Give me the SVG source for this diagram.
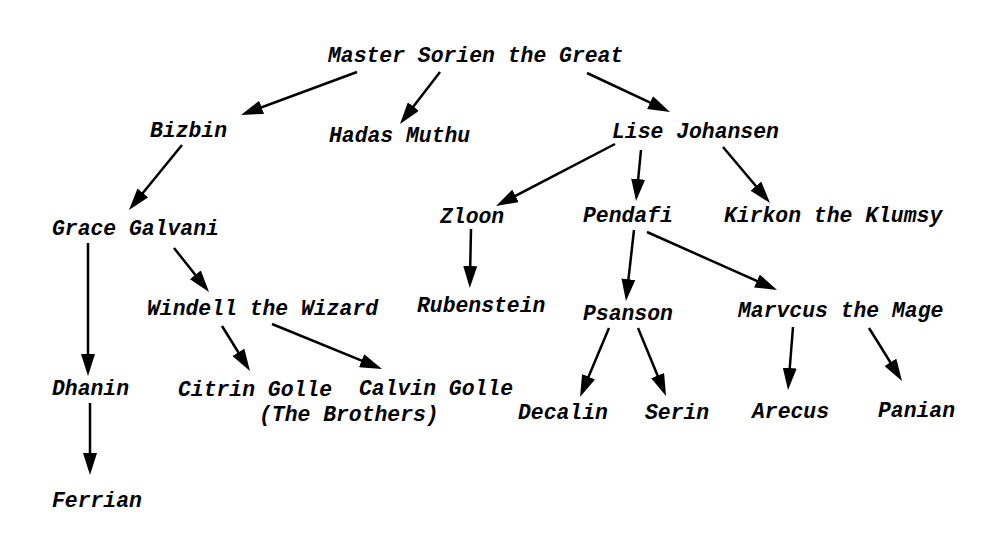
<svg xmlns="http://www.w3.org/2000/svg" width="1000" height="548" viewBox="0 0 1000 548">
<style>
text{font-family:"Liberation Mono","Courier New",monospace;font-size:21.4px;font-weight:bold;font-style:italic;fill:#000}
.c line{stroke:#000;stroke-width:2.5;marker-end:url(#ah)}
</style>
<defs>
<marker id="ah" markerUnits="userSpaceOnUse" markerWidth="22" markerHeight="14" refX="12" refY="7" orient="auto" viewBox="0 0 22 14">
<path d="M0,0 L22,7 L0,14 z" fill="#000"/>
</marker>
</defs>
<rect width="1000" height="548" fill="#fff"/>
<g class="c" id="connectors">
<line x1="357" y1="72" x2="250.4" y2="111.5"/>
<line x1="440" y1="72" x2="406.1" y2="116.1"/>
<line x1="587" y1="73" x2="660.9" y2="107.7"/>
<line x1="182" y1="145" x2="135.3" y2="202.3"/>
<line x1="615" y1="144" x2="504.9" y2="201.4"/>
<line x1="641" y1="150" x2="637" y2="191"/>
<line x1="723" y1="147" x2="763.6" y2="195.3"/>
<line x1="471" y1="229" x2="470" y2="278"/>
<line x1="634" y1="230" x2="627.1" y2="291.1"/>
<line x1="647" y1="232" x2="767.9" y2="285.9"/>
<line x1="88" y1="243" x2="88" y2="366"/>
<line x1="174" y1="248" x2="202.8" y2="284.2"/>
<line x1="222" y1="326" x2="244.7" y2="362.5"/>
<line x1="272" y1="324" x2="372.7" y2="365.2"/>
<line x1="90" y1="403" x2="90" y2="465"/>
<line x1="609" y1="328" x2="583.9" y2="387.8"/>
<line x1="638" y1="328" x2="662.2" y2="386.7"/>
<line x1="793" y1="327" x2="788.8" y2="380"/>
<line x1="869" y1="328" x2="896.7" y2="372.5"/>
</g>
<g id="master"><text x="328" y="62">Master Sorien the Great</text></g>
<g id="bizbin"><text x="150" y="137">Bizbin</text></g>
<g id="hadas"><text x="329" y="142">Hadas Muthu</text></g>
<g id="lise"><text x="612" y="138">Lise Johansen</text></g>
<g id="grace"><text x="52" y="235">Grace Galvani</text></g>
<g id="zloon"><text x="440" y="223">Zloon</text></g>
<g id="pendafi"><text x="583" y="222">Pendafi</text></g>
<g id="kirkon"><text x="724" y="222">Kirkon the Klumsy</text></g>
<g id="windell"><text x="147" y="315">Windell the Wizard</text></g>
<g id="rubenstein"><text x="417" y="312">Rubenstein</text></g>
<g id="psanson"><text x="583" y="320">Psanson</text></g>
<g id="marvcus"><text x="738" y="317">Marvcus the Mage</text></g>
<g id="dhanin"><text x="52" y="395">Dhanin</text></g>
<g id="brothers"><text x="178" y="396">Citrin Golle</text><text x="359" y="395">Calvin Golle</text><text x="259" y="421">(The Brothers)</text></g>
<g id="decalin"><text x="518" y="419">Decalin</text></g>
<g id="serin"><text x="645" y="419">Serin</text></g>
<g id="arecus"><text x="752" y="418">Arecus</text></g>
<g id="panian"><text x="878" y="417">Panian</text></g>
<g id="ferrian"><text x="52" y="507">Ferrian</text></g>
</svg>
